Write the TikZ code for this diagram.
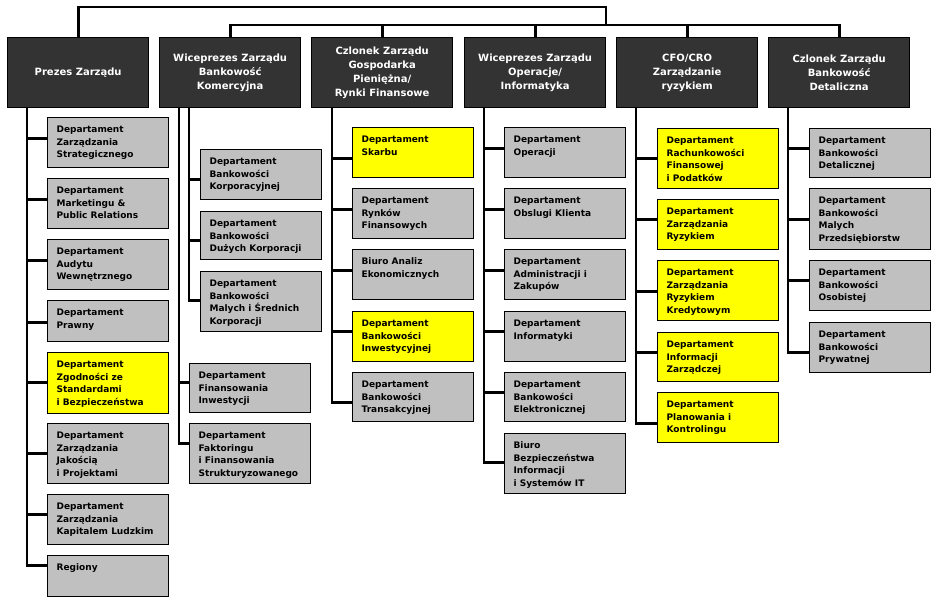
\documentclass[tikz,border=0pt]{standalone}
\usepackage{fontspec}
\setmainfont{DejaVu Sans}
\usetikzlibrary{backgrounds}
\definecolor{hdr}{HTML}{333333}
\definecolor{grayb}{HTML}{C0C0C0}
\definecolor{yel}{HTML}{FFFF00}
\tikzset{
  hdrbox/.style={draw=black, line width=1.3pt, fill=hdr, text=white,
    minimum width=141pt, minimum height=70pt, inner sep=0pt, anchor=north west,
    align=center, font=\fontsize{10}{14}\selectfont\bfseries},
  deptbox/.style={draw=black, line width=1.2pt, anchor=north west, inner sep=0pt},
  grey/.style={deptbox, fill=grayb},
  yellowbox/.style={deptbox, fill=yel},
  conn/.style={draw=black, line width=2.7pt, line cap=rect},
  spine/.style={draw=black, line width=2.4pt, line cap=rect},
  branch/.style={draw=black, line width=3pt, line cap=rect},
}
\newcommand\deptfont{\fontsize{9}{12.5}\selectfont\bfseries}
\newcommand\dept[7]{%
  \node[#5] (#1) at (#2,#3) {\parbox[c][#4pt][t]{121pt}{\deptfont\leftskip=9pt\rightskip=0pt plus 1fil\parfillskip=0pt plus 1fil\vspace*{6.25pt}\strut #7}};
  \coordinate (#1b) at (#1.west |- 0,#6);}
\begin{document}
\begin{tikzpicture}[x=1pt, y=-1pt]
\useasboundingbox (0,0) rectangle (945,606);
% headers
\node[hdrbox] (h1) at (7,37) {Prezes Zarządu};
\node[hdrbox] (h2) at (159,37) {Wiceprezes Zarządu\\Bankowość\\Komercyjna};
\node[hdrbox] (h3) at (311,37) {Czlonek Zarządu\\Gospodarka\\Pieniężna/\\Rynki Finansowe};
\node[hdrbox] (h4) at (464,37) {Wiceprezes Zarządu\\Operacje/\\Informatyka};
\node[hdrbox] (h5) at (616,37) {CFO/CRO\\Zarządzanie\\ryzykiem};
\node[hdrbox] (h6) at (768,37) {Czlonek Zarządu\\Bankowość\\Detaliczna};
% column 1
\dept{a1}{47}{117}{50}{grey}{138}{Departament\\Zarządzania\\Strategicznego}
\dept{a2}{47}{178}{50}{grey}{199}{Departament\\Marketingu \&\\Public Relations}
\dept{a3}{47}{239}{50}{grey}{260}{Departament\\Audytu\\Wewnętrznego}
\dept{a4}{47}{300}{41}{grey}{322}{Departament\\Prawny}
\dept{a5}{47}{352}{61}{yellowbox}{382}{Departament\\Zgodności ze\\Standardami\\i Bezpieczeństwa}
\dept{a6}{47}{423}{60}{grey}{453}{Departament\\Zarządzania\\Jakością\\i Projektami}
\dept{a7}{47}{494}{50}{grey}{514}{Departament\\Zarządzania\\Kapitalem Ludzkim}
\dept{a8}{47}{555}{41}{grey}{565}{Regiony}
% column 2
\dept{b1}{200}{149}{50}{grey}{179}{Departament\\Bankowości\\Korporacyjnej}
\dept{b2}{200}{211}{48}{grey}{240}{Departament\\Bankowości\\Dużych Korporacji}
\dept{b3}{200}{271}{60}{grey}{300}{Departament\\Bankowości\\Malych i Średnich\\Korporacji}
\dept{b4}{189}{363}{49}{grey}{382}{Departament\\Finansowania\\Inwestycji}
\dept{b5}{189}{423}{60}{grey}{443}{Departament\\Faktoringu\\i Finansowania\\Strukturyzowanego}
% column 3
\dept{c1}{352}{127}{50}{yellowbox}{158}{Departament\\Skarbu}
\dept{c2}{352}{188}{50}{grey}{209}{Departament\\Rynków\\Finansowych}
\dept{c3}{352}{249}{50}{grey}{270}{Biuro Analiz\\Ekonomicznych}
\dept{c4}{352}{311}{50}{yellowbox}{331}{Departament\\Bankowości\\Inwestycyjnej}
\dept{c5}{352}{372}{49}{grey}{402}{Departament\\Bankowości\\Transakcyjnej}
% column 4
\dept{d1}{504}{127}{50}{grey}{148}{Departament\\Operacji}
\dept{d2}{504}{188}{50}{grey}{209}{Departament\\Obslugi Klienta}
\dept{d3}{504}{249}{50}{grey}{270}{Departament\\Administracji i\\Zakupów}
\dept{d4}{504}{311}{50}{grey}{331}{Departament\\Informatyki}
\dept{d5}{504}{372}{49}{grey}{392}{Departament\\Bankowości\\Elektronicznej}
\dept{d6}{504}{433}{60}{grey}{462}{Biuro\\Bezpieczeństwa\\Informacji\\i Systemów IT}
% column 5
\dept{e1}{657}{128}{60}{yellowbox}{158}{Departament\\Rachunkowości\\Finansowej\\i Podatków}
\dept{e2}{657}{199}{50}{yellowbox}{219}{Departament\\Zarządzania\\Ryzykiem}
\dept{e3}{657}{260}{60}{yellowbox}{291}{Departament\\Zarządzania\\Ryzykiem\\Kredytowym}
\dept{e4}{657}{332}{49}{yellowbox}{352}{Departament\\Informacji\\Zarządczej}
\dept{e5}{657}{392}{50}{yellowbox}{423}{Departament\\Planowania i\\Kontrolingu}
% column 6
\dept{f1}{809}{128}{49}{grey}{148}{Departament\\Bankowości\\Detalicznej}
\dept{f2}{809}{188}{61}{grey}{219}{Departament\\Bankowości\\Malych\\Przedsiębiorstw}
\dept{f3}{809}{260}{50}{grey}{280}{Departament\\Bankowości\\Osobistej}
\dept{f4}{809}{322}{50}{grey}{352}{Departament\\Bankowości\\Prywatnej}
% spine points
\coordinate (s1) at ([xshift=20pt]h1.south west);
\coordinate (s2) at ([xshift=20pt]h2.south west);
\coordinate (s2i) at ([xshift=30pt]h2.south west);
\coordinate (s3) at ([xshift=21pt]h3.south west);
\coordinate (s4) at ([xshift=20pt]h4.south west);
\coordinate (s5) at ([xshift=20pt]h5.south west);
\coordinate (s6) at ([xshift=20pt]h6.south west);
\coordinate (topR) at (606,7);
\coordinate (jn) at (606,25);
\begin{pgfonlayer}{background}
  % top connectors
  \draw[conn] (h1.north) |- (topR) -- (jn);
  \draw[conn] (h2.north) |- (jn) -| (h6.north);
  \draw[conn] (h3.north) -- (h3.north |- jn);
  \draw[conn] (h4.north) -- (h4.north |- jn);
  \draw[conn] (h5.north) -- (h5.north |- jn);
  % spines
  \draw[spine] (s1) -- (s1 |- a8b);
  \draw[spine] (s2i) -- (s2i |- b3b);
  \draw[spine] (s2) -- (s2 |- b5b);
  \draw[spine] (s3) -- (s3 |- c5b);
  \draw[spine] (s4) -- (s4 |- d6b);
  \draw[spine] (s5) -- (s5 |- e5b);
  \draw[spine] (s6) -- (s6 |- f4b);
  % branches
  \foreach \n in {a1,a2,a3,a4,a5,a6,a7,a8} \draw[branch] (s1 |- \n b) -- (\n b);
  \foreach \n in {b1,b2,b3} \draw[branch] (s2i |- \n b) -- (\n b);
  \foreach \n in {b4,b5} \draw[branch] (s2 |- \n b) -- (\n b);
  \foreach \n in {c1,c2,c3,c4,c5} \draw[branch] (s3 |- \n b) -- (\n b);
  \foreach \n in {d1,d2,d3,d4,d5,d6} \draw[branch] (s4 |- \n b) -- (\n b);
  \foreach \n in {e1,e2,e3,e4,e5} \draw[branch] (s5 |- \n b) -- (\n b);
  \foreach \n in {f1,f2,f3,f4} \draw[branch] (s6 |- \n b) -- (\n b);
\end{pgfonlayer}
\end{tikzpicture}
\end{document}
